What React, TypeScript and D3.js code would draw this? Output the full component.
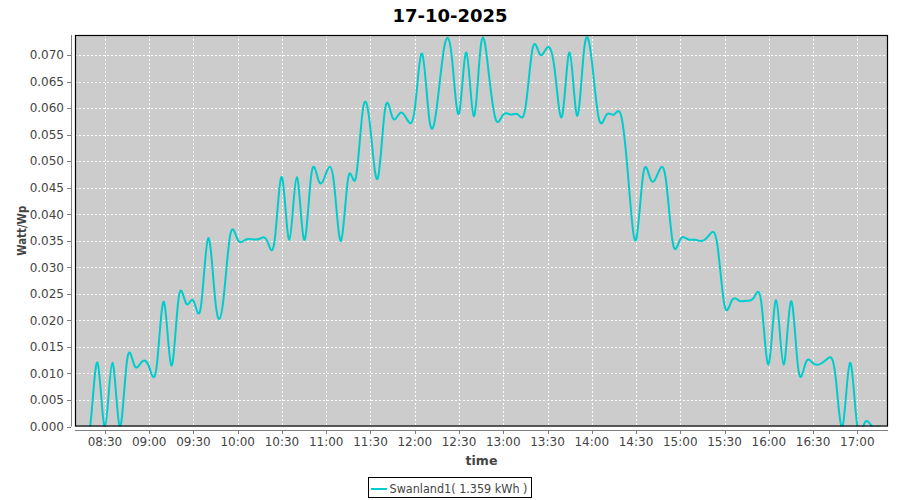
import React from "react";
import * as d3 from "d3";

const title = "17-10-2025";
const seriesName = "Swanland1( 1.359 kWh )";
const xAxisTitle = "time";
const yAxisTitle = "Watt/Wp";

const times = [
  "08:15", "08:20", "08:25", "08:30", "08:35", "08:40", "08:45", "08:50", "08:55",
  "09:00", "09:05", "09:10", "09:15", "09:20", "09:25", "09:30", "09:35", "09:40", "09:45", "09:50", "09:55",
  "10:00", "10:05", "10:10", "10:15", "10:20", "10:25", "10:30", "10:35", "10:40", "10:45", "10:50", "10:55",
  "11:00", "11:05", "11:10", "11:15", "11:20", "11:25", "11:30", "11:35", "11:40", "11:45", "11:50", "11:55",
  "12:00", "12:05", "12:10", "12:15", "12:20", "12:25", "12:30", "12:35", "12:40", "12:45", "12:50", "12:55",
  "13:00", "13:05", "13:10", "13:15", "13:20", "13:25", "13:30", "13:35", "13:40", "13:45", "13:50", "13:55",
  "14:00", "14:05", "14:10", "14:15", "14:20", "14:25", "14:30", "14:35", "14:40", "14:45", "14:50", "14:55",
  "15:00", "15:05", "15:10", "15:15", "15:20", "15:25", "15:30", "15:35", "15:40", "15:45", "15:50", "15:55",
  "16:00", "16:05", "16:10", "16:15", "16:20", "16:25", "16:30", "16:35", "16:40", "16:45", "16:50", "16:55",
  "17:00", "17:05", "17:10", "17:15",
];

const values = [
  0, 0, 0.012, 0, 0.012, 0, 0.0125, 0.0115, 0.0122,
  0.0112, 0.0112, 0.0235, 0.0115, 0.0243, 0.0232, 0.0237, 0.0225, 0.0355, 0.0232, 0.0232, 0.0362,
  0.0352, 0.0352, 0.0353, 0.0354, 0.035, 0.035, 0.047, 0.0352, 0.047, 0.0352, 0.0477, 0.0462,
  0.0478, 0.0465, 0.035, 0.047, 0.0468, 0.06, 0.056, 0.0468, 0.06, 0.0582, 0.0591, 0.0578,
  0.0598, 0.0703, 0.0577, 0.0603, 0.0715, 0.07, 0.059, 0.0705, 0.0585, 0.0722, 0.067, 0.0578,
  0.0588, 0.0588, 0.0588, 0.06, 0.0714, 0.0701, 0.0715, 0.067, 0.0586, 0.0705, 0.0586, 0.0715,
  0.069, 0.0578, 0.0588, 0.0588, 0.0585, 0.046, 0.0352, 0.0478, 0.0465, 0.0478, 0.047, 0.0345,
  0.0353, 0.0353, 0.0352, 0.035, 0.0362, 0.0345, 0.0228, 0.0238, 0.0237, 0.0237, 0.0243, 0.0232,
  0.0118, 0.0238, 0.0117, 0.0236, 0.0108, 0.012, 0.0119, 0.0118, 0.0128, 0.01, 0, 0.012,
  0, 0.0007, 0, 0,
];

const xTickLabels = [
  "08:30", "09:00", "09:30", "10:00", "10:30", "11:00", "11:30", "12:00", "12:30",
  "13:00", "13:30", "14:00", "14:30", "15:00", "15:30", "16:00", "16:30", "17:00",
];

const yTicks = [0, 0.005, 0.01, 0.015, 0.02, 0.025, 0.03, 0.035, 0.04, 0.045, 0.05, 0.055, 0.06, 0.065, 0.07];

const toMin = (s: string) => {
  const [h, m] = s.split(":").map(Number);
  return h * 60 + m;
};

export default function App() {
  const W = 900;
  const H = 500;
  const left = 75;
  const right = 888;
  const top = 35;
  const bottom = 426.5;

  const x = d3
    .scaleLinear()
    .domain([toMin("08:30") - 20.3, toMin("17:00") + 20.8])
    .range([left, right]);
  const y = d3.scaleLinear().domain([0, 0.0738]).range([bottom, top]);

  const data = times.map((t, i) => ({ t: toMin(t), v: values[i] }));
  const line = d3
    .line<{ t: number; v: number }>()
    .x((d) => x(d.t))
    .y((d) => y(d.v))
    .curve(d3.curveNatural);

  const font = "'DejaVu Sans', sans-serif";
  const tickColor = "#444444";
  const axisColor = "#808080";

  return (
    <svg
      width={W}
      height={H}
      style={{ position: "absolute", left: 0, top: 0, background: "#ffffff" }}
      fontFamily={font}
    >
      <defs>
        <clipPath id="plotClip">
          <rect x={left} y={top} width={right - left} height={bottom - top} />
        </clipPath>
      </defs>
      <rect x={0} y={0} width={W} height={H} fill="#ffffff" />
      <text x={450} y={22} textAnchor="middle" fontSize={18} fontWeight="bold" fill="#000">
        {title}
      </text>

      <rect x={left} y={top} width={right - left} height={bottom - top} fill="#cccccc" />

      {xTickLabels.map((l) => (
        <line
          key={"gx" + l}
          x1={Math.round(x(toMin(l))) + 0.5}
          x2={Math.round(x(toMin(l))) + 0.5}
          y1={top}
          y2={bottom}
          stroke="#ffffff"
          strokeWidth={1}
          strokeDasharray="2,2"
        />
      ))}
      {yTicks.map((v) => (
        <line
          key={"gy" + v}
          x1={left}
          x2={right}
          y1={Math.round(y(v)) + 0.5}
          y2={Math.round(y(v)) + 0.5}
          stroke="#ffffff"
          strokeWidth={1}
          strokeDasharray="2,2"
        />
      ))}

      <g clipPath="url(#plotClip)">
        <path d={line(data) || ""} fill="none" stroke="#00cccc" strokeWidth={2} />
      </g>

      <rect
        x={left + 0.5}
        y={top + 0.5}
        width={right - left - 1}
        height={bottom - top - 1}
        fill="none"
        stroke="#000"
        strokeWidth={1.2}
      />

      <line x1={71.5} x2={71.5} y1={top} y2={bottom} stroke={axisColor} strokeWidth={1} />
      {yTicks.map((v) => (
        <g key={"yt" + v}>
          <line
            x1={67}
            x2={71}
            y1={Math.round(y(v)) + 0.5}
            y2={Math.round(y(v)) + 0.5}
            stroke={axisColor}
          />
          <text x={64} y={y(v)} dy="0.35em" textAnchor="end" fontSize={12} fill={tickColor}>
            {d3.format(".3f")(v)}
          </text>
        </g>
      ))}
      <text
        transform={`translate(26, ${(top + bottom) / 2}) rotate(-90)`}
        textAnchor="middle"
        fontSize={11.5}
        fontWeight="bold"
        fill={tickColor}
        textLength={50}
        lengthAdjust="spacingAndGlyphs"
      >
        {yAxisTitle}
      </text>

      <line x1={left} x2={right} y1={430.5} y2={430.5} stroke={axisColor} strokeWidth={1} />
      {xTickLabels.map((l) => (
        <g key={"xt" + l}>
          <line
            x1={Math.round(x(toMin(l))) + 0.5}
            x2={Math.round(x(toMin(l))) + 0.5}
            y1={431}
            y2={434}
            stroke={axisColor}
          />
          <text x={x(toMin(l))} y={446} textAnchor="middle" fontSize={12} fill={tickColor}>
            {l}
          </text>
        </g>
      ))}
      <text
        x={(left + right) / 2}
        y={465}
        textAnchor="middle"
        fontSize={12.5}
        fontWeight="bold"
        fill={tickColor}
      >
        {xAxisTitle}
      </text>

      <rect x={368.5} y={477.5} width={163} height={20} fill="#fff" stroke="#000" strokeWidth={1} />
      <line x1={371} x2={387} y1={489} y2={489} stroke="#00cccc" strokeWidth={2} />
      <text
        x={389.5}
        y={493}
        fontSize={11.5}
        fill={tickColor}
        textLength={138}
        lengthAdjust="spacingAndGlyphs"
      >
        {seriesName}
      </text>
    </svg>
  );
}
